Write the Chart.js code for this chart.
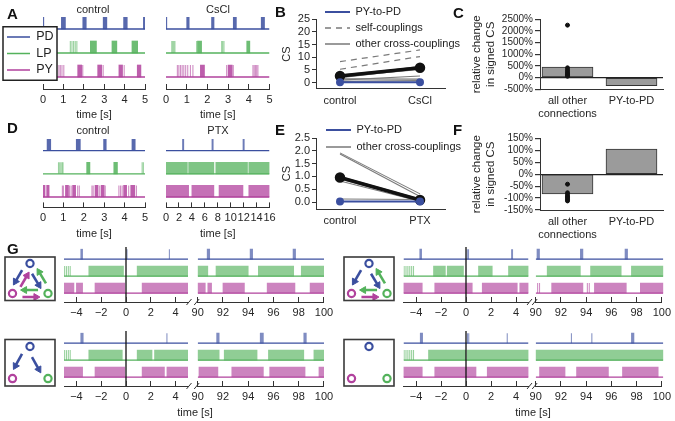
<!DOCTYPE html>
<html><head><meta charset="utf-8">
<script src="https://cdn.jsdelivr.net/npm/chart.js@4/dist/chart.umd.min.js"></script>
<style>
body{margin:0;background:#fff;}
#wrap{position:relative;width:675px;height:421px;overflow:hidden;background:#fff;}
#wrap canvas{position:absolute;left:0;top:0;}
.t{position:absolute;font:11px "Liberation Sans",Arial,sans-serif;color:#262626;line-height:1;white-space:nowrap;transform:translate(-50%,-50%);}
.L{position:absolute;font:bold 15px "Liberation Sans",Arial,sans-serif;color:#111;line-height:1;}
</style></head><body><div id="wrap"></div>
<script>
// ---- data ----
const rows=['PD','LP','PY'];
const aTicks=[0,1,2,3,4,5], ptxTicks=[0,2,4,6,8,10,12,14,16];
const gLTicks=[-4,-2,0,2,4], gRTicks=[90,92,94,96,98,100];

// A control / CsCl : bursts [start,end] and single spikes, time in s
const aCtrlPDb=[[0,0.04],[0.9,1.1],[1.95,2.12],[2.95,3.13],[3.95,4.13],[4.92,4.99]];
const aCtrlLPb=[[2.32,2.62],[3.38,3.62],[4.36,4.64]], aCtrlLPs=[1.34,1.42,1.5,1.58,1.66];
const aCtrlPYb=[[1.7,1.9],[2.68,2.88],[3.72,3.9],[4.62,4.8]], aCtrlPYs=[0.2,0.3,0.4,0.78,0.85,0.93,1.02,1.95,2.95,3.98];
const aCsPDb=[[0,0.04],[1.0,1.12],[2.2,2.32],[3.25,3.4],[4.6,4.76]];
const aCsLPb=[[1.52,1.72],[3.9,4.05]], aCsLPs=[0.28,0.33,0.38,0.43,1.48,2.69,2.74,2.8];
const aCsPYb=[[1.66,1.86],[3.0,3.2]], aCsPYs=[0.55,0.62,0.7,0.78,0.86,0.95,1.05,1.18,1.3,2.93,3.25,4.2,4.26,4.32,4.38,4.44];
// D control / PTX
const dCtrlPDb=[[0.2,0.38],[1.63,1.83],[2.97,3.1],[4.36,4.52]];
const dCtrlLPb=[[2.14,2.3],[3.47,3.65]], dCtrlLPs=[0.76,0.82,0.88,0.94,0.98,4.86,4.92];
const dCtrlPYb=[[0,0.1],[0.18,0.3],[1.1,1.25],[1.45,1.6],[2.55,2.7],[2.85,3.0],[3.95,4.1],[4.3,4.5]];
const dCtrlPYs=[0.95,1.0,1.3,1.38,1.7,1.78,2.4,2.46,2.78,3.05,3.72,3.8,3.88,4.2,4.58];
const dPtxPDb=[[2.55,2.75],[7.1,7.3],[11.9,12.1]];
const dPtxLPb=[[0,3.3],[3.5,7.4],[7.7,12.6],[12.8,16]];
const dPtxPYb=[[0,3.5],[4.0,7.4],[8.2,11.9],[12.8,16]];
// G, four network variants, windows -5..5 s and 90..100 s
const gTLlPDb=[[-3.65,-3.5]], gTLlPDs=[0.08,3.5];
const gTLlLPb=[[-3.0,-0.2],[0.9,5]], gTLlLPs=[-4.95,-4.8,-4.65,-4.5];
const gTLlPYb=[[-5,-4.2],[-4.0,-3.5],[-2.5,-0.1],[1.3,5]];
const gTLrPDb=[[90.75,90.95],[94.15,94.35],[97.55,97.75]];
const gTLrLPb=[[90,90.8],[91.45,94],[94.8,97.6],[98.2,100]];
const gTLrPYb=[[90,90.6],[90.8,91.1],[92,93.7],[95.5,97.7],[98.9,100]];
const gBLlPDb=[[-3.65,-3.45]], gBLlPDs=[3.3];
const gBLlLPb=[[-3,-0.3],[0.9,2.1],[2.3,5]], gBLlLPs=[-4.95,-4.8,-4.65,-4.5];
const gBLlPYb=[[-5,-3.5],[-2.5,-0.1],[1.3,3.1],[3.3,5]];
const gBLrPDb=[[91.5,91.7],[94.95,95.2],[98.4,98.6]];
const gBLrLPb=[[90,91.7],[92.1,94.7],[95.6,98.4],[99.2,100]];
const gBLrPYb=[[90.1,91.6],[92.7,95.2],[95.7,98.5],[99.6,100]];
const gTRlPDb=[[-3.7,-3.55]], gTRlPDs=[0.1,0.2,3.65,3.72];
const gTRlLPb=[[-2.6,-1.65],[-1.5,-0.2],[1.0,2.1],[3.4,5]], gTRlLPs=[-4.95,-4.8,-4.65,-4.5,-4.35,-4.2];
const gTRlPYb=[[-5,-3.5],[-2.5,0.5],[1.3,4.1],[4.3,5]];
const gTRrPDb=[[90.1,90.3],[93.5,93.7],[97,97.2]];
const gTRrLPb=[[90.9,93.5],[94.3,96.7],[97.5,100]];
const gTRrPYb=[[91.25,93.7],[94.6,97.1],[98.2,100]], gTRrPYs=[90.15,90.3,94.05,94.2];
const gBRlPDb=[[-3.66,-3.47]], gBRlPDs=[0.12,0.22,3.3];
const gBRlLPb=[[-3,0],[0.1,5]], gBRlLPs=[-4.95,-4.8,-4.65,-4.5,-4.35,-4.2];
const gBRlPYb=[[-5,-3.5],[-2.5,0.8],[1.7,5]];
const gBRrPDb=[[97.5,97.7]], gBRrPDs=[92.8,94.4];
const gBRrLPb=[[90,100]];
const gBRrPYb=[[90.3,92.3],[93.2,95.7],[96.8,99.6]];

// B / E coupling strengths, [control, treatment]
const bCats=['control','CsCl'], eCats=['control','PTX'];
const bTicks=[0,5,10,15,20,25], eTicks=[0,0.5,1,1.5,2,2.5];
const bPyPd=[0.2,0.2], bMean=[2.6,5.9];
const bSelf=[[8.3,12.9],[5.3,10.3]];
const bOther=[[2.2,6.5],[3.0,6.2],[2.0,5.5],[2.4,5.2],[1.0,2.6],[1.5,1.4],[0.5,0.8]];
const ePyPd=[0.02,0.02], eMean=[0.96,0.08];
const eOther=[[1.92,0.32],[1.88,0.22],[1.0,0.12],[0.9,0.06],[0.82,0.03],[0.12,0.1]];
// C / F relative change in signed CS (%)
const relCats=['all other connections','PY-to-PD'];
const cTicks=[-500,0,500,1000,1500,2000,2500], fTicks=[-150,-100,-50,0,50,100,150];
const cBars=[450,-340], cPts=[2250,420,330,260,200,150,100,60];
const fBars=[-83,105], fPts=[-42,-78,-85,-92,-97,-102,-107,-112];
// network icons: node positions PD, LP, PY and edges [from,to]
const nodePos=[[0.5,0.85],[0.86,0.16],[0.15,0.16]];
const tlEdges=[[0,2],[0,1],[1,0],[1,2],[2,0],[2,1]];
const trEdges=[[0,2],[0,1],[1,0],[1,2],[2,1]];
const blEdges=[[0,2],[0,1]];
const brEdges=[];

// ---- drawing ----
Chart.defaults.font.family="'Liberation Sans', Arial, sans-serif";
Chart.defaults.font.size=11;
Chart.defaults.color='#262626';
const W=675,H=421;
const PD='59,79,159',LP='84,178,92',PY='177,66,157';
const rowCol=[PD,LP,PY];
const wrap=document.getElementById('wrap');

function mk(cfg,plugins){
 const c=document.createElement('canvas');c.width=W;c.height=H;wrap.appendChild(c);
 Object.assign(cfg.options,{responsive:false,animation:false,events:[],devicePixelRatio:1});
 if(plugins)cfg.plugins=plugins;
 return new Chart(c,cfg);
}
function pad(l,t,r,b){return {autoPadding:false,padding:{left:l,top:t,right:W-r,bottom:H-b}};}
function off(){return {legend:{display:false},tooltip:{enabled:false}};}

const brk={id:'brk',afterDraw(c,a,o){if(!o.side)return;const {left,right,bottom}=c.chartArea,g=c.ctx;
 const x=o.side==='r'?right+1:left-1;g.save();g.strokeStyle='#333';g.lineWidth=1;g.beginPath();
 g.moveTo(x-2.5,bottom+3);g.lineTo(x+2.5,bottom-3);g.stroke();g.restore();}};
const frame={id:'frame',afterDraw(c,a,o){if(!o.on)return;const {left,top,right,bottom}=c.chartArea,g=c.ctx;
 g.save();g.strokeStyle='#3a3a3a';g.lineWidth=1.6;g.strokeRect(left,top,right-left,bottom-top);g.restore();}};
function legendRect(c){const L=c.legend,hb=L.legendHitBoxes,last=hb[hb.length-1];
 return [L.left,L.top,L.width,last.top+last.height+4-L.top];}
const lbox={id:'lbox',
 beforeDraw(c,a,o){if(!o.on)return;const r=legendRect(c),g=c.ctx;g.save();g.fillStyle='#fff';g.fillRect(...r);g.restore();},
 afterDraw(c,a,o){if(!o.on)return;const r=legendRect(c),g=c.ctx;g.save();g.strokeStyle='#222';g.lineWidth=1.5;g.strokeRect(...r);g.restore();}};

function raster(x0,x1,top,bot,xr,lo,hi,h,tr,zero,alpha){
 const hp=h*(bot-top)/(hi-lo),ds=[];
 tr.forEach((t,i)=>{const r=2-i,c=rowCol[i];
  ds.push({type:'line',data:[{x:xr[0],y:r},{x:xr[1],y:r}],borderColor:`rgb(${c})`,borderWidth:1.3,pointRadius:0});
  ds.push({type:'bar',indexAxis:'y',grouped:false,data:t[0].map(b=>({x:b,y:r+h/2})),backgroundColor:`rgba(${c},${alpha})`,borderWidth:0,barThickness:hp});
  ds.push({type:'scatter',data:(t[1]||[]).map(s=>({x:s,y:r+h/2})),pointStyle:'line',pointRotation:90,pointRadius:hp/2,pointBorderColor:`rgba(${c},0.6)`,pointBorderWidth:1.1});
 });
 if(zero)ds.unshift({type:'line',data:[{x:0,y:lo},{x:0,y:hi}],borderColor:'#111',borderWidth:1.3,pointRadius:0});
 mk({type:'scatter',data:{datasets:ds},options:{layout:pad(x0,top,x1,bot),plugins:off(),
  scales:{x:{type:'linear',display:false,min:xr[0],max:xr[1],offset:false},y:{type:'linear',display:false,min:lo,max:hi,offset:false}}}});
}
function taxis(x0,x1,y,xr,ticks,title,side){
 mk({type:'scatter',data:{datasets:[]},options:{layout:pad(x0,y-5,x1,y+33),plugins:{...off(),brk:{side:side}},
  scales:{x:{type:'linear',min:xr[0],max:xr[1],offset:false,afterBuildTicks:s=>{s.ticks=ticks.map(v=>({value:v}))},afterFit:s=>{s.height=33},
   grid:{color:'#333',drawTicks:false,lineWidth:1},border:{display:true,color:'#333',width:1},
   ticks:{padding:4,autoSkip:false,maxRotation:0,color:'#262626',callback:v=>v<0?'\u2212'+(-v):''+v},
   title:{display:!!title,text:title,padding:{top:0,bottom:0},font:{size:11}}},y:{display:false}}}},[brk]);
}
function seg(v,col,w,dash){return {data:[{x:0,y:v[0]},{x:1,y:v[1]}],borderColor:col,backgroundColor:col,borderWidth:w,borderDash:dash,pointRadius:0};}
function csPanel(top,bot,lo,hi,ticks,fmt,cats,pypd,mean,self,other){
 const x0=316,x1=445,c0=340,c1=420,u=c1-c0,ds=[];
 ds.push({...seg(pypd,`rgb(${PD})`,2,[]),pointRadius:3,pointBackgroundColor:`rgb(${PD})`,pointBorderColor:`rgb(${PD})`});
 ds.push({...seg(mean,'#111',3.5,[]),pointRadius:3.5,pointBackgroundColor:'#111',pointBorderColor:'#111'});
 self.forEach(v=>ds.push(seg(v,'#7a7a7a',1.2,[6,5])));
 other.forEach(v=>ds.push(seg(v,'#7a7a7a',1.1,[])));
 mk({type:'line',data:{datasets:ds},options:{layout:pad(x0-40,top,x1,bot+30),plugins:off(),scales:{
  x:{type:'linear',min:(x0-c0)/u,max:1+(x1-c1)/u,offset:false,afterBuildTicks:s=>{s.ticks=[{value:0},{value:1}]},afterFit:s=>{s.height=30},
   grid:{display:false,drawTicks:false},border:{display:true,color:'#333'},ticks:{padding:5,autoSkip:false,maxRotation:0,callback:v=>cats[v]}},
  y:{min:lo,max:hi,afterBuildTicks:s=>{s.ticks=ticks.map(v=>({value:v}))},afterFit:s=>{s.width=40},
   grid:{drawOnChartArea:false,tickLength:4,tickColor:'#333'},border:{display:true,color:'#333'},
   ticks:{padding:2,autoSkip:false,callback:fmt},title:{display:true,text:'CS',padding:{top:4,bottom:0}}}}}});
}
function relPanel(top,bot,lo,hi,ticks,bars,pts){
 const x0=540,x1=663,c0=567.5,c1=631.5,u=c1-c0;
 const lab=s=>{const k=s.lastIndexOf(' ');return s.length>10?[s.slice(0,k),s.slice(k+1)]:s;};
 mk({type:'bar',data:{datasets:[
  {type:'scatter',data:pts.map(v=>({x:0,y:v})),pointRadius:2,pointBackgroundColor:'#111',pointBorderColor:'#111'},
  {type:'bar',data:bars.map((v,i)=>({x:i,y:v})),backgroundColor:'#9b9b9b',borderColor:'#333',borderWidth:1,borderSkipped:false,barThickness:51}]},
  options:{layout:pad(x0-72,top,x1,bot+40),plugins:off(),scales:{
   x:{type:'linear',min:(x0-c0)/u,max:1+(x1-c1)/u,offset:false,afterBuildTicks:s=>{s.ticks=[{value:0},{value:1}]},afterFit:s=>{s.height=40},
    grid:{display:false,drawTicks:false},border:{display:true,color:'#333'},ticks:{padding:5,autoSkip:false,maxRotation:0,callback:v=>lab(relCats[v])}},
   y:{min:lo,max:hi,afterBuildTicks:s=>{s.ticks=ticks.map(v=>({value:v}))},afterFit:s=>{s.width=72},
    grid:{color:c=>c.tick&&c.tick.value===0?'#222':'rgba(0,0,0,0)',lineWidth:1.2,tickLength:5,tickColor:'#333'},
    border:{display:true,color:'#333'},ticks:{padding:2,autoSkip:false,font:{size:10},callback:v=>v+'%'},
    title:{display:true,text:['relative change','in signed CS'],padding:{top:2,bottom:0},font:{size:11.5}}}}}});
}
function legendChart(x,y,w,items,font,padd,boxW,box){
 mk({type:'line',data:{datasets:items},options:{layout:pad(x,y,x+w,H),scales:{x:{display:false},y:{display:false}},
  plugins:{legend:{display:true,position:'top',align:'start',labels:{boxWidth:boxW,boxHeight:0,padding:padd,font:{size:font},color:'#222'}},
   tooltip:{enabled:false},lbox:{on:box}}}},[lbox]);
}
function icon(x0,y0,x1,y1,edges){
 const bw=x1-x0,bh=y1-y0,cols=rowCol.map(c=>`rgb(${c})`);
 const ds=[{type:'scatter',order:0,data:nodePos.map(p=>({x:p[0],y:p[1]})),pointRadius:3.6,pointBorderWidth:2.2,pointBackgroundColor:'#fff',pointBorderColor:cols}];
 edges.forEach(([a,b])=>{
  const A=nodePos[a],B=nodePos[b],col=cols[a];
  const dx=(B[0]-A[0])*bw,dy=(B[1]-A[1])*bh,L=Math.hypot(dx,dy),ux=dx/L,uy=dy/L,nx=uy,ny=-ux,o=3.5;
  const s={x:A[0]+(dx*0.28+nx*o)/bw,y:A[1]+(dy*0.28+ny*o)/bh},e={x:A[0]+(dx*0.66+nx*o)/bw,y:A[1]+(dy*0.66+ny*o)/bh};
  ds.push({type:'line',order:1,data:[s,e],borderColor:col,borderWidth:2.6,pointStyle:'triangle',pointRadius:[0,4],
   pointRotation:[0,Math.atan2(ux,uy)*180/Math.PI],pointBackgroundColor:col,pointBorderColor:col,pointBorderWidth:1});
 });
 mk({type:'scatter',data:{datasets:ds},options:{layout:pad(x0,y0,x1,y1),plugins:{...off(),frame:{on:true}},
  scales:{x:{display:false,min:0,max:1},y:{display:false,min:0,max:1}}}},[frame]);
}

// A
raster(43,145,17,89,[0,5],-0.5,2.5,0.5,[[aCtrlPDb],[aCtrlLPb,aCtrlLPs],[aCtrlPYb,aCtrlPYs]],false,0.85);
raster(166,269.5,17,89,[0,5],-0.5,2.5,0.5,[[aCsPDb],[aCsLPb,aCsLPs],[aCsPYb,aCsPYs]],false,0.85);
taxis(43,145,89,[0,5],aTicks,'time [s]','');
taxis(166,269.5,89,[0,5],aTicks,'time [s]','');
// D
raster(43,145,139.1,207.4,[0,5],-0.45,2.5,0.5,[[dCtrlPDb],[dCtrlLPb,dCtrlLPs],[dCtrlPYb,dCtrlPYs]],false,0.85);
raster(166,269.5,139.1,207.4,[0,16],-0.45,2.5,0.5,[[dPtxPDb],[dPtxLPb],[dPtxPYb]],false,0.75);
taxis(43,145,207.4,[0,5],aTicks,'time [s]','');
taxis(166,269.5,207.4,[0,16],ptxTicks,'time [s]','');
// G
const gRows=[[247,302],[331,386]];
[[64,188,197.7,324,gRows[0],[[gTLlPDb,gTLlPDs],[gTLlLPb,gTLlLPs],[gTLlPYb]],[[gTLrPDb],[gTLrLPb],[gTLrPYb]]],
 [64,188,197.7,324,gRows[1],[[gBLlPDb,gBLlPDs],[gBLlLPb,gBLlLPs],[gBLlPYb]],[[gBLrPDb],[gBLrLPb],[gBLrPYb]]],
 [403.5,528.5,535.7,663.3,gRows[0],[[gTRlPDb,gTRlPDs],[gTRlLPb,gTRlLPs],[gTRlPYb]],[[gTRrPDb],[gTRrLPb],[gTRrPYb,gTRrPYs]]],
 [403.5,528.5,535.7,663.3,gRows[1],[[gBRlPDb,gBRlPDs],[gBRlLPb,gBRlLPs],[gBRlPYb]],[[gBRrPDb,gBRrPDs],[gBRrLPb],[gBRrPYb]]]
].forEach(([a0,a1,b0,b1,yy,left,right])=>{
 raster(a0,a1,yy[0],yy[1],[-5,5],-0.53,2.72,0.59,left,true,0.65);
 raster(b0,b1,yy[0],yy[1],[90,100],-0.53,2.72,0.59,right,false,0.65);
 taxis(a0,a1,yy[1],[-5,5],gLTicks,'','r');
 taxis(b0,b1,yy[1],[90,100],gRTicks,'','l');
});
icon(5,257,55,300.5,tlEdges);
icon(5,339.5,55,386,blEdges);
icon(344,257,394,300.5,trEdges);
icon(344,339.5,394,386,brEdges);
// B, C, E, F
csPanel(19.3,89,-2.5,25,bTicks,v=>''+v,bCats,bPyPd,bMean,bSelf,bOther);
csPanel(138,209,-0.27,2.5,eTicks,v=>v.toFixed(1),eCats,ePyPd,eMean,[],eOther);
relPanel(19.3,89.3,-500,2500,cTicks,cBars,cPts);
relPanel(138.3,210,-150,150,fTicks,fBars,fPts);
// legends
const blue=`rgb(${PD})`;
legendChart(320,1.5,175,[{label:'PY-to-PD',data:[],borderColor:blue,backgroundColor:blue,borderWidth:2},
 {label:'self-couplings',data:[],borderColor:'#7a7a7a',backgroundColor:'#7a7a7a',borderWidth:1.5,borderDash:[6,5]},
 {label:'other cross-couplings',data:[],borderColor:'#7a7a7a',backgroundColor:'#7a7a7a',borderWidth:1.5}],11,5,25,false);
legendChart(320,118.5,175,[{label:'PY-to-PD',data:[],borderColor:blue,backgroundColor:blue,borderWidth:2},
 {label:'other cross-couplings',data:[],borderColor:'#7a7a7a',backgroundColor:'#7a7a7a',borderWidth:1.5}],11,6,25,false);
legendChart(3,26.75,54,rows.map((r,i)=>({label:r,data:[],borderColor:`rgb(${rowCol[i]})`,backgroundColor:`rgb(${rowCol[i]})`,borderWidth:1.5})),12.5,4,23,true);

// text
function txt(s,x,y,cls){const d=document.createElement('div');d.className=cls;d.textContent=s;d.style.left=x+'px';d.style.top=y+'px';wrap.appendChild(d);}
[['A',7,6],['B',275,4],['C',453,5],['D',7,120],['E',275,122],['F',453,122],['G',7,241]].forEach(a=>txt(a[0],a[1],a[2],'L'));
[['control',93,9],['CsCl',218,9],['control',93,130],['PTX',218,130],['time [s]',195,412],['time [s]',533,412]].forEach(a=>txt(a[0],a[1],a[2],'t'));
</script></body></html>
